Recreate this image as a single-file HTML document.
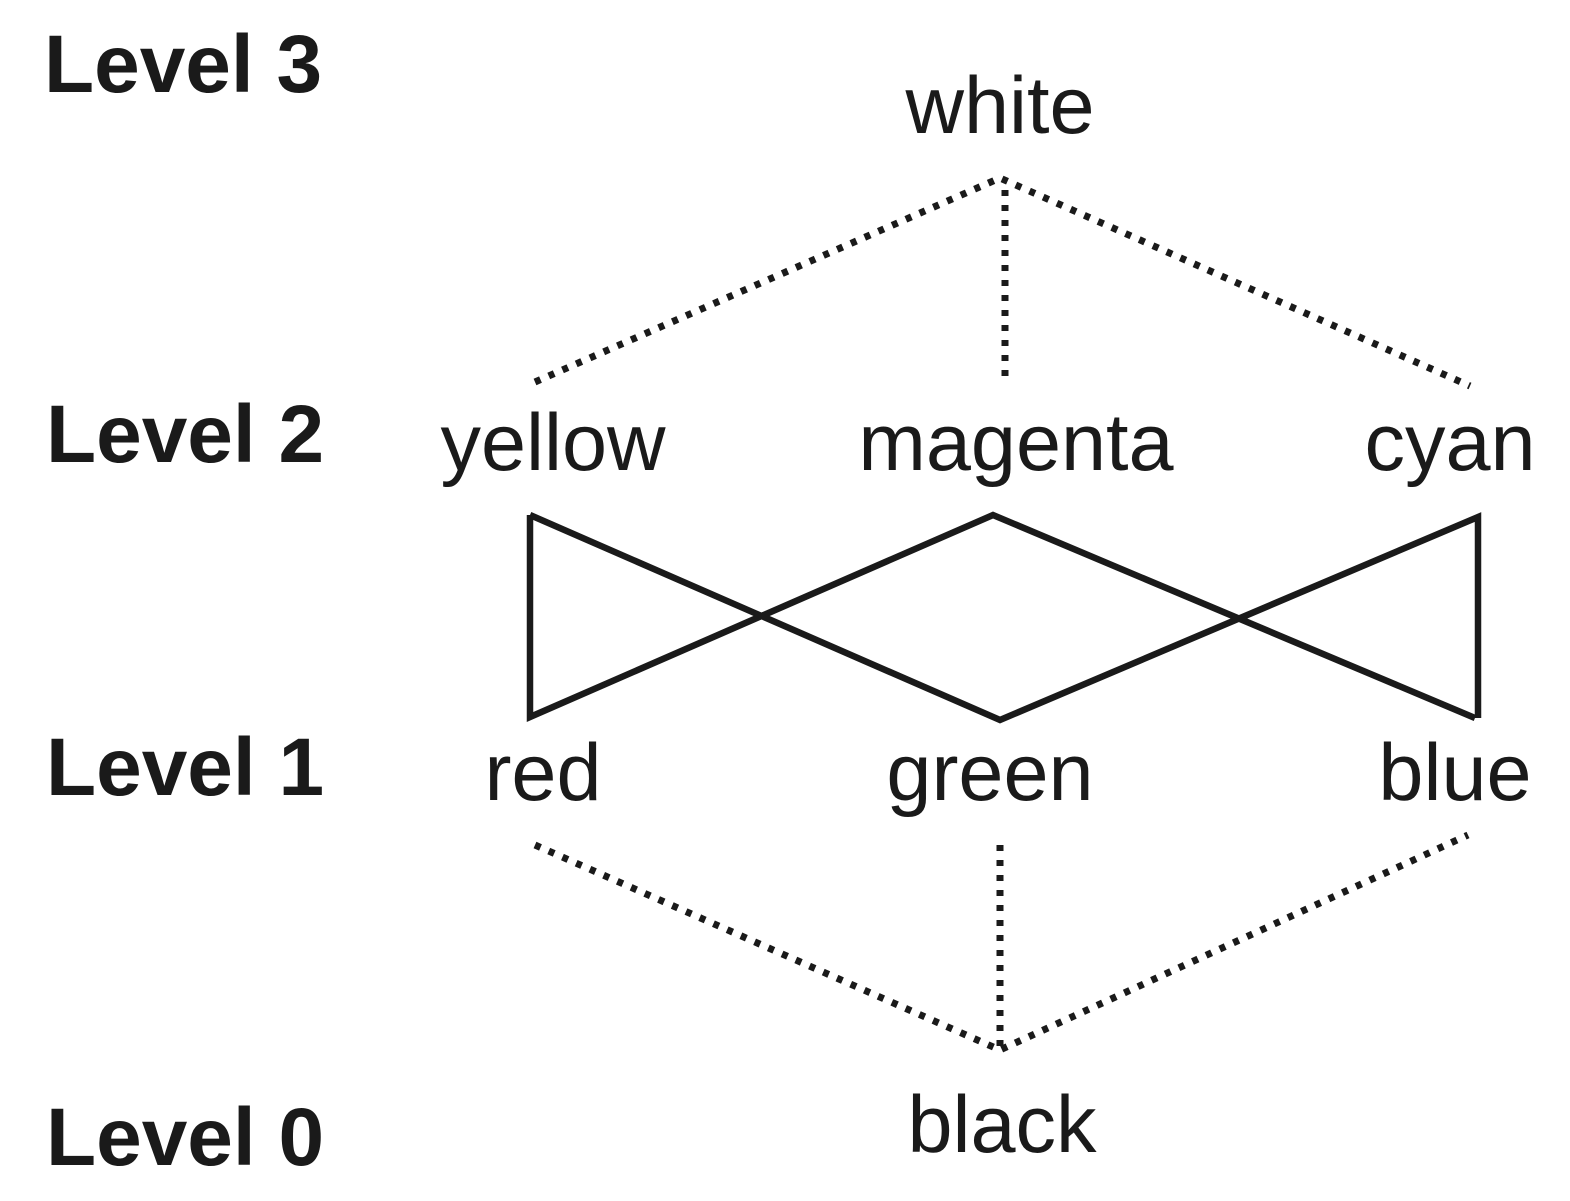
<!DOCTYPE html>
<html><head><style>
body{margin:0;background:#fff;width:1570px;height:1201px;overflow:hidden}
svg{position:absolute;left:0;top:0}
</style></head><body>
<svg width="1570" height="1201" viewBox="0 0 1570 1201" font-family="Liberation Sans, Arial, sans-serif" fill="#1a1a1a">
<g font-weight="bold" font-size="82">
<text x="44" y="92">Level 3</text>
<text x="46" y="462">Level 2</text>
<text x="46" y="795">Level 1</text>
<text x="46" y="1165">Level 0</text>
</g>
<g font-size="81" text-anchor="middle">
<text x="1000" y="133">white</text>
<text x="553" y="470">yellow</text>
<text x="1016" y="470">magenta</text>
<text x="1450" y="470">cyan</text>
<text x="543" y="800">red</text>
<text x="990" y="800">green</text>
<text x="1455" y="800">blue</text>
<text x="1002" y="1152">black</text>
</g>
<g stroke="#1a1a1a" stroke-width="7" fill="none" stroke-dasharray="6 9">
<path d="M535 382 L1000 178 L1470 386"/>
<path d="M1005 190 L1005 382"/>
<path d="M535 845 L1000 1050 L1468 835"/>
<path d="M1000 845 L1000 1050"/>
</g>
<g stroke="#1a1a1a" stroke-width="6.5" fill="none">
<path d="M530 515 L530 717 L993 515 L1475 718"/>
<path d="M530 515 L1000 720 L1478 517 L1478 718"/>
</g>
</svg>
</body></html>
